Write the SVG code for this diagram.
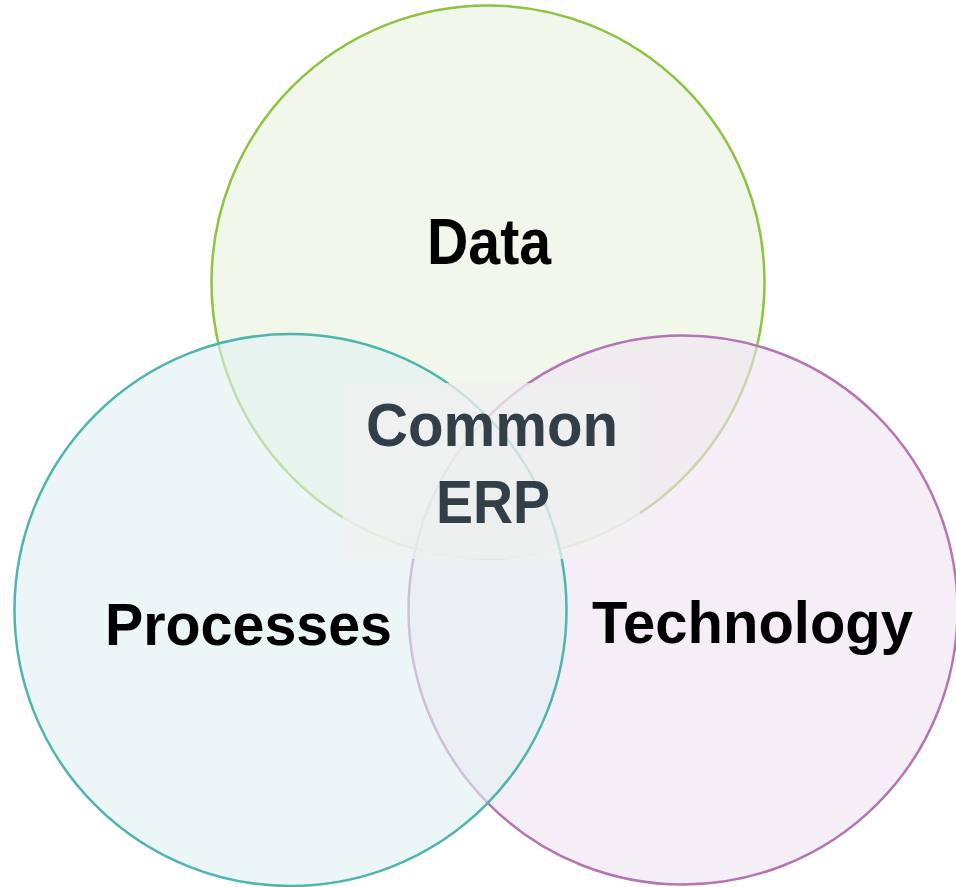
<svg xmlns="http://www.w3.org/2000/svg" width="956" height="887" viewBox="0 0 956 887">
<style>
.c{stroke-width:2.5}
.lbl{font-family:"Liberation Sans",Arial,sans-serif;font-weight:bold;text-anchor:middle;fill:#000}
.mid{font-family:"Liberation Sans",Arial,sans-serif;font-weight:bold;text-anchor:middle;fill:#323E48}
</style>
<rect width="956" height="887" fill="#ffffff"/>
<g id="data">
<circle class="c" cx="488" cy="282" r="276.5" fill="#E8F2DC" fill-opacity="0.6" stroke="#8CC43F"/>
<text class="lbl" x="489" y="264" font-size="64" textLength="124" lengthAdjust="spacingAndGlyphs">Data</text>
</g>
<g id="technology">
<circle class="c" cx="683" cy="610" r="274.5" fill="#F0E3F0" fill-opacity="0.6" stroke="#B475B3"/>
<text class="lbl" x="752.5" y="643" font-size="60" textLength="321" lengthAdjust="spacingAndGlyphs">Technology</text>
</g>
<g id="processes">
<circle class="c" cx="290.5" cy="610" r="276" fill="#E1F0F2" fill-opacity="0.6" stroke="#4CB5AE"/>
<text class="lbl" x="248.5" y="645" font-size="60" textLength="287" lengthAdjust="spacingAndGlyphs">Processes</text>
</g>
<g id="common-erp">
<rect x="343" y="383" width="297" height="176" fill="#F0F0F0" fill-opacity="0.75"/>
<text class="mid" x="492" y="446" font-size="61" textLength="252" lengthAdjust="spacingAndGlyphs">Common</text>
<text class="mid" x="493" y="523" font-size="61" textLength="114" lengthAdjust="spacingAndGlyphs">ERP</text>
</g>
<g id="connectors"></g>
</svg>
